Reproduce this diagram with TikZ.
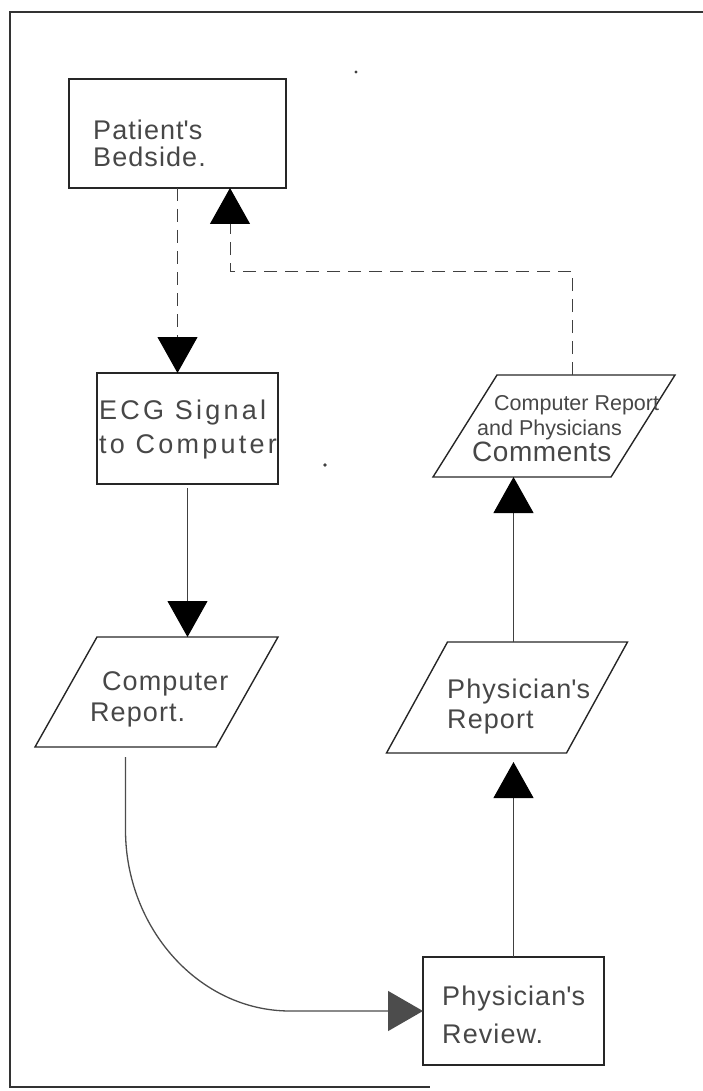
\documentclass[tikz,border=0pt]{standalone}
\usepackage{fontspec}
\setmainfont{Liberation Sans}[LetterSpace=4]
\usetikzlibrary{arrows.meta,calc}

\tikzset{
  frameline/.style={line width=1.5pt, draw=black!80},
  boxshape/.style={draw=black!85, line width=1.4pt, rectangle, outer sep=0pt, inner sep=0pt},
  parabox/.style={rectangle, outer sep=0pt, inner sep=0pt},
  paraline/.style={draw=black!85, line width=1.4pt, line join=miter},
  conn/.style={draw=black!75, line width=1pt},
  dashconn/.style={conn, dash pattern=on 13pt off 8pt},
  bigtip/.style={-{Triangle[length=36pt,width=40pt,color=black,fill=black]}},
  lbl/.style={anchor=base west, inner sep=0pt, text=black!72,
    font=\fontsize{27}{30}\selectfont},
  smalllbl/.style={lbl, font=\fontsize{21.5}{25}\selectfont\addfontfeatures{LetterSpace=0}},
  widelbl/.style={lbl, font=\fontsize{27}{30}\selectfont\addfontfeatures{LetterSpace=12}},
}

% parallelogram drawn around an (invisible) rectangle node, slanted by #2
\newcommand\slantedframe[2]{%
  \draw[paraline] ($(#1.south west)+(-#2,0)$) -- ($(#1.north west)+(#2,0)$)
    -- ($(#1.north east)+(#2,0)$) -- ($(#1.south east)+(-#2,0)$) -- cycle;}

\begin{document}
\begin{tikzpicture}[x=1pt,y=-1pt]
\useasboundingbox (0,0) rectangle (703,1091);

% page frame
\coordinate (ftl) at (10,12);
\coordinate (ftr) at (703,12);
\coordinate (fbl) at (10,1087);
\coordinate (fbr) at (430,1087);
\draw[frameline] (ftr) -- (ftl) -- (fbl) -- (fbr);

% rectangular steps
\node[boxshape, minimum width=217pt, minimum height=109pt] (bed) at (177.5,133.5) {};
\node[boxshape, minimum width=181pt, minimum height=111pt] (ecg) at (187.5,428.5) {};
\node[boxshape, minimum width=181pt, minimum height=108pt] (prev) at (513.5,1011) {};

% parallelogram steps
\node[parabox, minimum width=181pt, minimum height=110pt] (cr) at (156.5,692) {};
\node[parabox, minimum width=180pt, minimum height=111pt] (pr) at (507,697.5) {};
\node[parabox, minimum width=178pt, minimum height=102pt] (com) at (554,426) {};
\slantedframe{cr}{31}
\slantedframe{pr}{30.5}
\slantedframe{com}{32}

% labels
\node[lbl] (bed1) at (93,140) {Patient\textquotesingle s};
\node[lbl] (bed2) at (93,167) {Bedside.};
\node[widelbl] (ecg1) at (99,419) {ECG Signal};
\node[widelbl] (ecg2) at (99,453) {to Computer};
\node[lbl] (cr1) at (102,690) {Computer};
\node[lbl] (cr2) at (90,721) {Report.};
\node[lbl] (pr1) at (447,698) {Physician\textquotesingle s};
\node[lbl] (pr2) at (447,728) {Report};
\node[lbl] (prev1) at (442,1005) {Physician\textquotesingle s};
\node[lbl] (prev2) at (442,1043) {Review.};
\node[smalllbl] (com1) at (494,410) {Computer Report};
\node[smalllbl] (com2) at (477,435) {and Physicians};
\node[lbl, font=\fontsize{28}{30}\selectfont\addfontfeatures{LetterSpace=2}] (com3) at (472,461) {Comments};

% connectors
\draw[dashconn, bigtip] (bed.south) -- (bed.south |- ecg.north);
\draw[conn, bigtip, shorten <=4pt] (ecg.south) -- (ecg.south |- cr.north);
\coordinate (crout) at ($(cr.south)+(-31,0)$);
\coordinate (bendtop) at ($(crout)+(0,83)$);
\coordinate (bendend) at ($(prev.west)+(-133,0)$);
\draw[conn, line width=1.3pt, draw=black!70,
      -{Triangle[length=35pt,width=40pt,color=black!70,fill=black!70]}, shorten <=10pt]
  (crout) -- (bendtop) .. controls +(0,98) and +(-91,0) .. (bendend) -- (prev.west);
\draw[conn, bigtip, shorten >=9pt] (prev.north) -- (prev.north |- pr.south);
\draw[conn, bigtip] (prev.north |- pr.north) -- (prev.north |- com.south);
\coordinate (comout) at ($(com.north)+(18,0)$);
\coordinate (bedin) at ($(bed.south)+(52.5,0)$);
\draw[dashconn, bigtip] (comout) -- ++(0,-104) -| (bedin);

% stray marks
\fill[black!75] (356,72) circle (1.6pt);
\fill[black!75] (325,465) circle (1.8pt);
\end{tikzpicture}
\end{document}
